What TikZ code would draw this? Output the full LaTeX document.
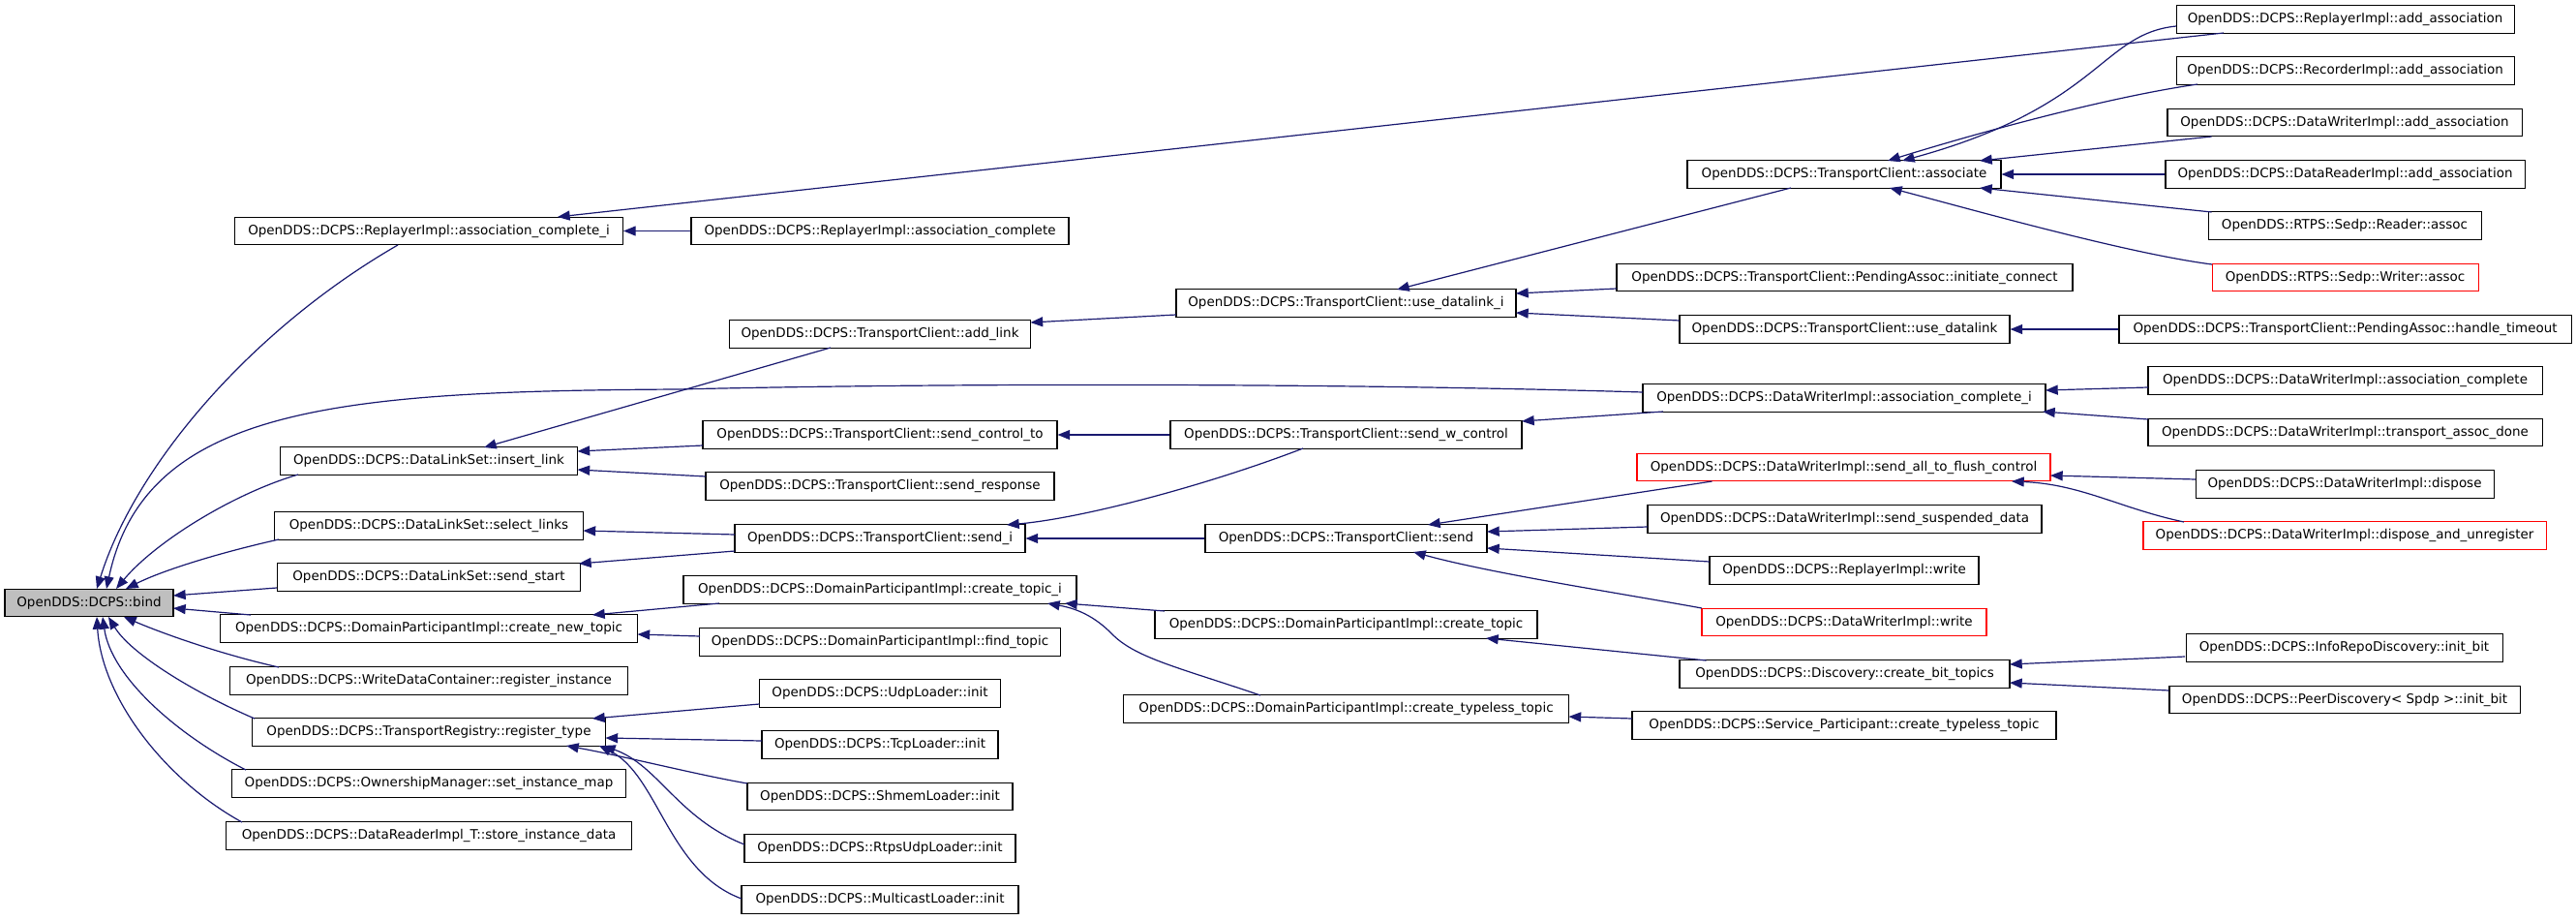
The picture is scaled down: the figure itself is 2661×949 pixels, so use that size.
\documentclass[tikz,border=0pt]{standalone}
\usepackage{fontspec}
\setmainfont{DejaVu Sans}
\usetikzlibrary{arrows.meta}
\definecolor{edgeblue}{HTML}{191970}
\definecolor{bindgray}{HTML}{BFBFBF}
\tikzset{
  box/.style={draw=black, line width=0.8pt, fill=white, inner sep=0pt, minimum height=21.4pt, anchor=center},
  edge/.style={draw=edgeblue, line width=0.9pt, -{Triangle[length=9.5pt,width=7.5pt]}}
}
\newcommand{\bx}[6][]{\node[box,#1,minimum width=#5*0.75pt] (#2) at (#3,#4) {#6};}
\newcommand{\ed}[4]{\draw[edge] ([shift={(#2)}]#1.center) -- ([shift={(#4)}]#3.center);}
\begin{document}
\begin{tikzpicture}[x=0.75pt,y=-0.75pt,font=\fontsize{10.1}{12}\selectfont]
\fill[white] (0,0) rectangle (2661,949);
\useasboundingbox (0,0) rectangle (2661,949);
% column 1
\bx[fill=bindgray]{bind}{92}{622.5}{174}{OpenDDS::DCPS::bind}
% column 2
\bx{acI}{443}{238.5}{401}{OpenDDS::DCPS::ReplayerImpl::association\_complete\_i}
\bx{insl}{443}{476}{307}{OpenDDS::DCPS::DataLinkSet::insert\_link}
\bx{sel}{443}{543}{319}{OpenDDS::DCPS::DataLinkSet::select\_links}
\bx{sst}{443}{596}{313}{OpenDDS::DCPS::DataLinkSet::send\_start}
\bx{cnt}{443}{649}{431}{OpenDDS::DCPS::DomainParticipantImpl::create\_new\_topic}
\bx{rin}{443}{703}{411}{OpenDDS::DCPS::WriteDataContainer::register\_instance}
\bx{rty}{443}{756}{365}{OpenDDS::DCPS::TransportRegistry::register\_type}
\bx{sim}{443}{809}{407}{OpenDDS::DCPS::OwnershipManager::set\_instance\_map}
\bx{sid}{443}{863}{419}{OpenDDS::DCPS::DataReaderImpl\_T::store\_instance\_data}
% column 3
\bx{ac}{909}{238.5}{390}{OpenDDS::DCPS::ReplayerImpl::association\_complete}
\bx{adl}{909}{345}{311}{OpenDDS::DCPS::TransportClient::add\_link}
\bx{sct}{909}{449}{366}{OpenDDS::DCPS::TransportClient::send\_control\_to}
\bx{srs}{909}{502}{360}{OpenDDS::DCPS::TransportClient::send\_response}
\bx{sdi}{909}{556}{300}{OpenDDS::DCPS::TransportClient::send\_i}
\bx{cti}{909}{609}{406}{OpenDDS::DCPS::DomainParticipantImpl::create\_topic\_i}
\bx{fnd}{909}{663}{373}{OpenDDS::DCPS::DomainParticipantImpl::find\_topic}
\bx{udp}{909}{716}{249}{OpenDDS::DCPS::UdpLoader::init}
\bx{tcp}{909}{769}{244}{OpenDDS::DCPS::TcpLoader::init}
\bx{shm}{909}{822.5}{274}{OpenDDS::DCPS::ShmemLoader::init}
\bx{rtp}{909}{876}{280}{OpenDDS::DCPS::RtpsUdpLoader::init}
\bx{mcl}{909}{929}{286}{OpenDDS::DCPS::MulticastLoader::init}
% column 4
\bx{udi}{1390.5}{313}{351}{OpenDDS::DCPS::TransportClient::use\_datalink\_i}
\bx{swc}{1390.5}{449}{363}{OpenDDS::DCPS::TransportClient::send\_w\_control}
\bx{snd}{1390.5}{556}{291}{OpenDDS::DCPS::TransportClient::send}
\bx{ctp}{1390.5}{645}{395}{OpenDDS::DCPS::DomainParticipantImpl::create\_topic}
\bx{ctt}{1390.5}{732}{460}{OpenDDS::DCPS::DomainParticipantImpl::create\_typeless\_topic}
% column 5
\bx{aso}{1905}{180}{324}{OpenDDS::DCPS::TransportClient::associate}
\bx{ini}{1905.5}{286.5}{471}{OpenDDS::DCPS::TransportClient::PendingAssoc::initiate\_connect}
\bx{udl}{1905.5}{340}{341}{OpenDDS::DCPS::TransportClient::use\_datalink}
\bx{dac}{1905}{411}{416}{OpenDDS::DCPS::DataWriterImpl::association\_complete\_i}
\bx[draw=red]{fls}{1904.5}{482.5}{427}{OpenDDS::DCPS::DataWriterImpl::send\_all\_to\_flush\_control}
\bx{ssd}{1905.5}{536}{407}{OpenDDS::DCPS::DataWriterImpl::send\_suspended\_data}
\bx{rwr}{1905}{589}{278}{OpenDDS::DCPS::ReplayerImpl::write}
\bx[draw=red]{dwr}{1905}{642.5}{294}{OpenDDS::DCPS::DataWriterImpl::write}
\bx{bit}{1905.5}{696}{341}{OpenDDS::DCPS::Discovery::create\_bit\_topics}
\bx{spt}{1905}{749}{438}{OpenDDS::DCPS::Service\_Participant::create\_typeless\_topic}
% column 6
\bx{rad}{2422.5}{20}{349}{OpenDDS::DCPS::ReplayerImpl::add\_association}
\bx{rca}{2422.5}{73}{349}{OpenDDS::DCPS::RecorderImpl::add\_association}
\bx{dwa}{2422}{126.5}{366}{OpenDDS::DCPS::DataWriterImpl::add\_association}
\bx{dra}{2422.5}{180}{371}{OpenDDS::DCPS::DataReaderImpl::add\_association}
\bx{rda}{2422}{233}{282}{OpenDDS::RTPS::Sedp::Reader::assoc}
\bx[draw=red]{wra}{2422.5}{286.5}{275}{OpenDDS::RTPS::Sedp::Writer::assoc}
\bx{hto}{2422.5}{340}{467}{OpenDDS::DCPS::TransportClient::PendingAssoc::handle\_timeout}
\bx{dwc}{2422.5}{393}{407}{OpenDDS::DCPS::DataWriterImpl::association\_complete}
\bx{tad}{2422.5}{446.5}{407}{OpenDDS::DCPS::DataWriterImpl::transport\_assoc\_done}
\bx{dsp}{2422}{500}{308}{OpenDDS::DCPS::DataWriterImpl::dispose}
\bx[draw=red]{dau}{2422}{553}{416}{OpenDDS::DCPS::DataWriterImpl::dispose\_and\_unregister}
\bx{irb}{2421.5}{669}{327}{OpenDDS::DCPS::InfoRepoDiscovery::init\_bit}
\bx{pdb}{2422}{722.5}{362}{OpenDDS::DCPS::PeerDiscovery< Spdp >::init\_bit}
% ---- edges into bind
\draw[edge] ([shift={(-32,14.5)}]acI.center) .. controls (260,340) and (140,480) .. ([shift={(8,-14.5)}]bind.center);
\draw[edge] ([shift={(-208,-6)}]dac.center) .. controls (1400,396) and (1000,395) .. (700,402) .. controls (350,404) and (150,420) .. ([shift={(18,-14.5)}]bind.center);
\draw[edge] ([shift={(-135,14)}]insl.center) .. controls (240,510) and (160,560) .. ([shift={(28,-14.5)}]bind.center);
\draw[edge] ([shift={(-155,14)}]sel.center) .. controls (230,570) and (170,588) .. ([shift={(38,-14.5)}]bind.center);
\ed{sst}{-157,11}{bind}{87,-7.5}
\ed{cnt}{-184,-14}{bind}{87,5.5}
\draw[edge] ([shift={(-155,-14)}]rin.center) .. controls (230,676) and (170,655) .. ([shift={(36,14.5)}]bind.center);
\draw[edge] ([shift={(-180,-14)}]rty.center) .. controls (200,715) and (135,675) .. ([shift={(20,14.5)}]bind.center);
\draw[edge] ([shift={(-189,-14)}]sim.center) .. controls (185,760) and (115,700) .. ([shift={(14,14.5)}]bind.center);
\draw[edge] ([shift={(-193,-14)}]sid.center) .. controls (170,805) and (105,720) .. ([shift={(8,14.5)}]bind.center);
% ---- column 2 callers
\draw[edge] (ac.west) -- (acI.east);
\ed{rad}{-125.5,14}{acI}{133,-14.5}
\ed{adl}{-51,14}{insl}{57,-14}
\ed{sct}{-183,11}{insl}{153.5,-10}
\ed{srs}{-180,-10}{insl}{153.5,9}
\ed{sdi}{-150,-4}{sel}{159.5,5}
\ed{sdi}{-150,13}{sst}{155,-14}
\ed{cti}{-166,14}{cnt}{169,-14}
\ed{fnd}{-186,-6}{cnt}{215.5,6}
\ed{udp}{-124.5,11}{rty}{169,-14}
\ed{tcp}{-122,-4}{rty}{182.5,6}
\draw[edge] ([shift={(-137,-13.5)}]shm.center) .. controls (720,800) and (650,782) .. ([shift={(142,14)}]rty.center);
\draw[edge] ([shift={(-140,-4)}]rtp.center) .. controls (700,845) and (680,790) .. ([shift={(180,14)}]rty.center);
\draw[edge] ([shift={(-143,-1)}]mcl.center) .. controls (690,900) and (680,800) .. ([shift={(176,14)}]rty.center);
% ---- column 3 callers
\ed{udi}{-175.5,12}{adl}{155.5,-12}
\draw[edge] (swc.west) -- (sct.east);
\draw[edge] ([shift={(-44.5,14)}]swc.center) .. controls (1250,500) and (1120,535) .. ([shift={(131,-14)}]sdi.center);
\draw[edge] (snd.west) -- (sdi.east);
\ed{ctp}{-187.5,-14}{cti}{191,14}
\draw[edge] ([shift={(-88.5,-14)}]ctt.center) .. controls (1220,690) and (1175,680) .. (1150,656) .. controls (1130,635) and (1110,628) .. ([shift={(173,14)}]cti.center);
% ---- column 4 callers
\ed{aso}{-55,14}{udi}{52.5,-14}
\ed{ini}{-235.5,11.5}{udi}{175.5,-10}
\ed{udl}{-170.5,-9}{udi}{175.5,10}
\ed{dac}{-187,14}{swc}{181.5,-14}
\ed{fls}{-136,14.5}{snd}{84.5,-14}
\ed{ssd}{-203.5,8}{snd}{145.5,-7}
\ed{rwr}{-139,-9}{snd}{145.5,10}
\draw[edge] ([shift={(-147,-14.5)}]dwr.center) .. controls (1670,612) and (1540,592) .. ([shift={(69.5,14)}]snd.center);
\ed{bit}{-143,-14}{ctp}{144.5,14}
\ed{spt}{-219,-7}{ctt}{230,8}
% ---- column 5 callers
\draw[edge] ([shift={(-174.5,7)}]rad.center) .. controls (2170,35) and (2170,110) .. ([shift={(60,-14)}]aso.center);
\draw[edge] ([shift={(-152.5,14)}]rca.center) .. controls (2180,100) and (2050,135) .. ([shift={(45,-14)}]aso.center);
\ed{dwa}{-137.5,14.5}{aso}{140,-14}
\draw[edge] (dra.west) -- (aso.east);
\ed{rda}{-137.5,-14}{aso}{140,14}
\draw[edge] ([shift={(-137.5,-13.5)}]wra.center) .. controls (2200,262) and (2050,220) .. ([shift={(47,14)}]aso.center);
\draw[edge] (hto.west) -- (udl.east);
\ed{dwc}{-203.5,7}{dac}{208,-8}
\ed{tad}{-203.5,-13.5}{dac}{205,14}
\ed{dsp}{-154,-5}{fls}{213.5,8.5}
\draw[edge] ([shift={(-166,-14)}]dau.center) .. controls (2190,525) and (2150,500) .. ([shift={(173.5,14.5)}]fls.center);
\ed{irb}{-164.5,9}{bit}{170.5,-10}
\ed{pdb}{-181.5,-9.5}{bit}{170.5,9}
\end{tikzpicture}
\end{document}
